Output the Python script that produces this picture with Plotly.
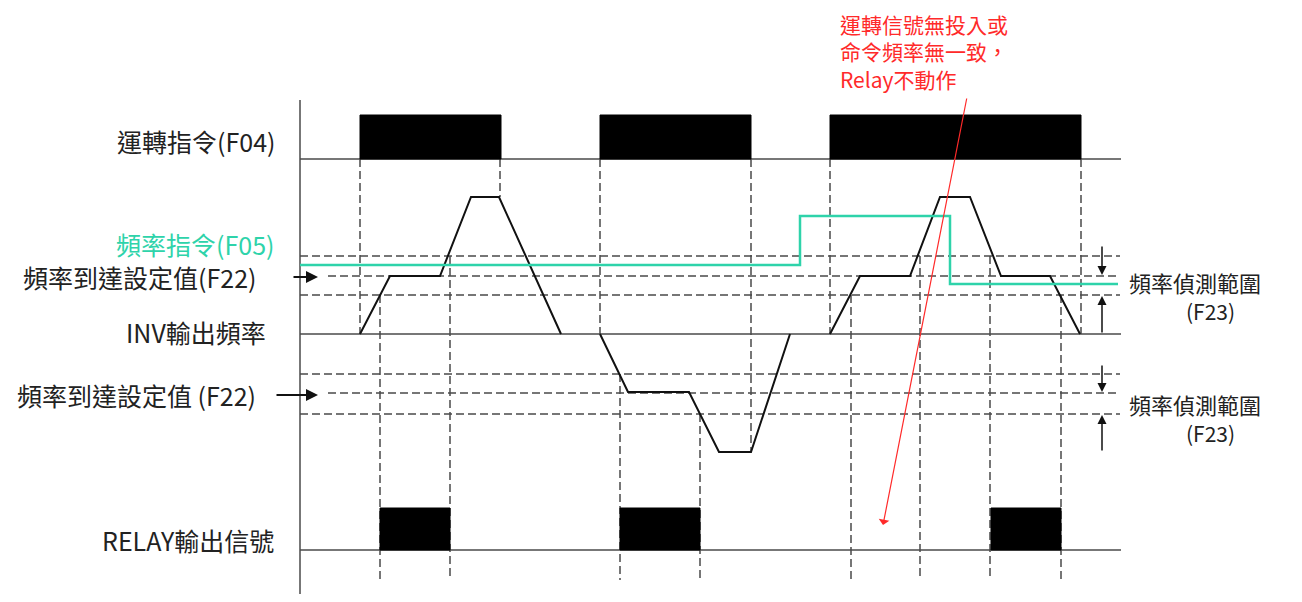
import plotly.graph_objects as go

# timing diagram: run command, frequency command, INV output frequency, relay output
# time axis runs left->right, each row has its own baseline (screen units, y grows down)

# rows (baselines)
run_base, run_high = 159, 115
inv_base = 334
relay_base, relay_high = 550, 508
t_start, t_end = 300, 1121

# run command pulses (F04)
run_on = [360, 600, 830]
run_off = [501, 751, 1081]

# relay output pulses
relay_on = [380, 620, 991]
relay_off = [450, 700, 1061]

# INV output frequency (relative to its baseline, up = positive)
inv_t = [[360, 390, 440, 471, 499, 561],
         [600, 628, 689, 719, 751, 790],
         [830, 860, 910, 940, 970, 1001, 1050, 1080]]
inv_f = [[0, 58, 58, 137, 137, 0],
         [0, -58, -58, -118, -118, 0],
         [0, 58, 58, 137, 137, 58, 58, 0]]

# frequency command (F05)
cmd_t = [300, 800, 800, 950, 950, 1118]
cmd_f = [69, 69, 118, 118, 50, 50]

# frequency arrival setting (F22) and detection band (F23)
pos_band = [78, 58, 39]
neg_band = [-40, -59, -80]

# vertical guide lines: time, from, to
guide_t = [360, 380, 450, 500, 600, 620, 700, 751, 830, 851, 920, 990, 1061, 1081]
guide_y0 = [159, 295, 256, 159, 159, 374, 414, 159, 159, 295, 256, 256, 295, 159]
guide_y1 = [334, 580, 580, 197, 334, 580, 580, 452, 334, 580, 580, 580, 580, 334]

GRAY = "#4a4a4a"
GREEN = "#2ed3aa"
RED = "#ff2a2a"
FONT = "Noto Sans CJK TC"

fig = go.Figure()

def add_line(x, y, color=GRAY, width=1.5, dash="solid"):
    fig.add_trace(go.Scatter(x=x, y=y, mode="lines", hoverinfo="skip",
                             line=dict(color=color, width=width, dash=dash)))

# horizontal dashed band lines
for band in (pos_band, neg_band):
    for i, f in enumerate(band):
        x0 = 328 if i == 1 else t_start
        add_line([x0, 1120], [inv_base - f] * 2, dash="8px,4px")

# vertical dashed guides
for t, a, b in zip(guide_t, guide_y0, guide_y1):
    add_line([t, t], [a, b], dash="8px,4px")

# axis and baselines
add_line([300, 300], [100, 602])
for yb in [run_base, inv_base, relay_base]:
    add_line([t_start, t_end], [yb, yb])

# pulses
for on, off in zip(run_on, run_off):
    fig.add_trace(go.Scatter(x=[on, on, off, off, on], y=[run_base, run_high, run_high, run_base, run_base],
                             mode="lines", fill="toself", fillcolor="black",
                             line=dict(color="black", width=1), hoverinfo="skip"))
for on, off in zip(relay_on, relay_off):
    fig.add_trace(go.Scatter(x=[on, on, off, off, on], y=[relay_base, relay_high, relay_high, relay_base, relay_base],
                             mode="lines", fill="toself", fillcolor="black",
                             line=dict(color="black", width=1), hoverinfo="skip"))

# INV output frequency
for ts, fs in zip(inv_t, inv_f):
    add_line(ts, [inv_base - f for f in fs], color="#111", width=2)

# frequency command
add_line(cmd_t, [inv_base - f for f in cmd_f], color=GREEN, width=2.5)

def label(text, x, y, anchor="right", color="#222", size=25, align="left"):
    fig.add_annotation(x=x, y=y, text=text, showarrow=False, xanchor=anchor, yanchor="middle",
                       align=align, font=dict(family=FONT, size=size, color=color))

label("運轉指令(F04)", 277, 141)
label("頻率指令(F05)", 276, 244, color=GREEN)
label("頻率到達設定值(F22)", 258, 277)
label("INV輸出頻率", 268, 332)
label("頻率到達設定值 (F22)", 258, 395)
label("RELAY輸出信號", 276, 540)

for y in (282, 404):
    label("頻率偵測範圍", 1127, y, anchor="left", size=22)
    label("(F23)", 1210, y + 29, anchor="center", size=21)

label("運轉信號無投入或<br>命令頻率無一致，<br>Relay不動作", 838, 51, anchor="left", color=RED, size=21)

def arrow(x0, y0, x1, y1, color="#111", width=1.5, head=2, size=1.2):
    fig.add_annotation(x=x1, y=y1, ax=x0, ay=y0, xref="x", yref="y", axref="x", ayref="y",
                       text="", showarrow=True, arrowhead=head, arrowsize=size,
                       arrowwidth=width, arrowcolor=color, standoff=0)

arrow(292, 277, 318, 277, width=2)
arrow(275, 395, 318, 395, width=2)
arrow(1102, 245, 1102, 275)
arrow(1102, 334, 1102, 296)
arrow(1102, 364, 1102, 392)
arrow(1102, 452, 1102, 415)
arrow(967, 97, 883, 525, color=RED, width=1.2, head=1, size=1.5)

# page body has an 8px margin, so the figure is shifted by 8px and sized to fit
fig.update_layout(width=1286, height=586, margin=dict(l=0, r=0, t=0, b=0),
                  paper_bgcolor="white", plot_bgcolor="white", showlegend=False,
                  xaxis=dict(range=[8, 1294], visible=False, fixedrange=True),
                  yaxis=dict(range=[594, 8], visible=False, fixedrange=True))

fig.write_html("out.html")
